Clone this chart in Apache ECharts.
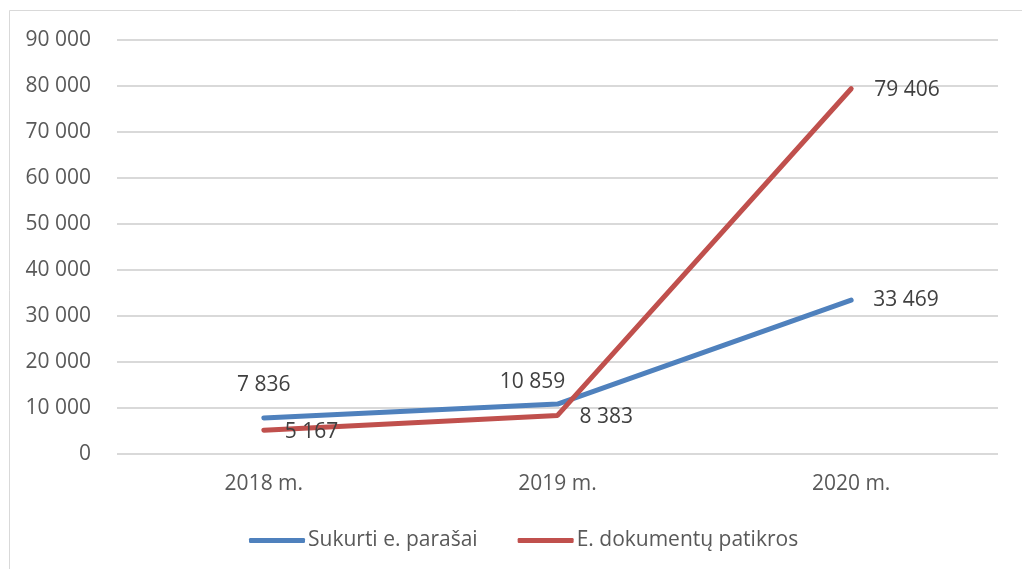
<!DOCTYPE html>
<html>
<head>
<meta charset="utf-8">
<script src="https://cdn.jsdelivr.net/npm/echarts@6/dist/echarts.min.js"></script>
<style>html,body{margin:0;padding:0;background:#fff}#c{width:1022px;height:569px}</style>
</head>
<body>
<div id="c"></div>
<script>
const categories = ['2018 m.', '2019 m.', '2020 m.'];
const seriesNames = ['Sukurti e. parašai', 'E. dokumentų patikros'];
const signatures = [7836, 10859, 33469];
const checks = [5167, 8383, 79406];
const yTicks = [0, 10000, 20000, 30000, 40000, 50000, 60000, 70000, 80000, 90000];

const fmt = v => String(v).replace(/\B(?=(\d{3})+(?!\d))/g, ' ');
const FONT = '"Open Sans", "Noto Sans", sans-serif';
const FS = 21;
const chart = echarts.init(document.getElementById('c'), null, {renderer: 'canvas'});

const blueLabels = [
  {position: 'top', distance: 22, offset: [0, 0]},
  {position: 'top', distance: 12, offset: [-25, 0]},
  {position: 'right', distance: 22, offset: [0, 0]}
];
const redLabels = [
  {position: 'right', distance: 21, offset: [0, 2]},
  {position: 'right', distance: 22, offset: [0, 2]},
  {position: 'right', distance: 23, offset: [0, 1]}
];
function mk(vals, labs) {
  return vals.map((v, i) => ({value: v, label: labs[i]}));
}

chart.setOption({
  animation: false,
  backgroundColor: '#fff',
  graphic: [{
    type: 'rect', silent: true, z: -1,
    shape: {x: 9.5, y: 10.5, width: 1200, height: 800},
    style: {fill: 'none', stroke: '#d9d9d9', lineWidth: 1}
  }],
  grid: {left: 117, right: 24, top: 40, bottom: 115, containLabel: false},
  legend: {
    left: 244, top: 525,
    itemWidth: 56, itemHeight: 5, itemGap: 40,
    icon: 'roundRect',
    textStyle: {fontFamily: FONT, fontSize: FS, color: '#595959', padding: [0, 0, 0, -2]},
    data: seriesNames
  },
  xAxis: {
    type: 'category', data: categories, boundaryGap: true,
    axisLine: {show: false}, axisTick: {show: false},
    axisLabel: {fontFamily: FONT, fontSize: FS, color: '#595959', margin: 20}
  },
  yAxis: {
    type: 'value', min: 0, max: 90000, interval: 10000,
    axisLine: {show: false}, axisTick: {show: false},
    splitLine: {lineStyle: {color: '#d9d9d9', width: 2}},
    axisLabel: {fontFamily: FONT, fontSize: FS, color: '#595959', margin: 26,
      formatter: v => yTicks.includes(v) ? fmt(v) : ''}
  },
  series: [
    {
      name: seriesNames[0], type: 'line', data: mk(signatures, blueLabels),
      symbol: 'circle', symbolSize: 0, showSymbol: true,
      lineStyle: {color: '#4f81bd', width: 5, cap: 'round', join: 'round'},
      itemStyle: {color: '#4f81bd'},
      label: {show: true, fontFamily: FONT, fontSize: FS, color: '#404040', formatter: p => fmt(p.value)},
      z: 2
    },
    {
      name: seriesNames[1], type: 'line', data: mk(checks, redLabels),
      symbol: 'circle', symbolSize: 0, showSymbol: true,
      lineStyle: {color: '#c0504d', width: 5, cap: 'round', join: 'round'},
      itemStyle: {color: '#c0504d'},
      label: {show: true, fontFamily: FONT, fontSize: FS, color: '#404040', formatter: p => fmt(p.value)},
      z: 3
    }
  ]
});
</script>
</body>
</html>
